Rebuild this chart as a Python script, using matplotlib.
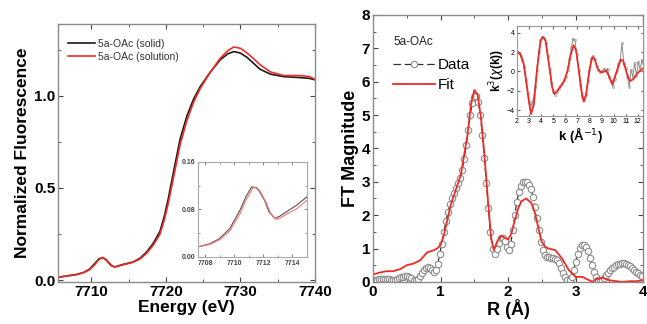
import matplotlib
matplotlib.use("Agg")
import matplotlib.pyplot as plt
import numpy as np
from matplotlib.ticker import MultipleLocator

plt.rcParams['font.family'] = ['Liberation Sans', 'DejaVu Sans']

# ---------------- XANES (left) ----------------
e_solid = [7705.5, 7706.0, 7707.0, 7708.0, 7709.0, 7709.7, 7710.4, 7711.0, 7711.5, 7712.0,
           7712.6, 7713.1, 7714.0, 7715.0, 7715.6, 7716.5, 7717.4, 7718.3, 7719.2, 7719.8,
           7720.3, 7721.0, 7721.9, 7722.8, 7723.7, 7724.6, 7725.9, 7727.3, 7728.3, 7729.1,
           7730.0, 7730.9, 7731.8, 7732.6, 7734.0, 7735.8, 7738.0, 7739.2, 7740.0]
v_solid = [0.015, 0.018, 0.024, 0.030, 0.042, 0.058, 0.088, 0.115, 0.122, 0.108,
           0.080, 0.071, 0.082, 0.092, 0.098, 0.118, 0.152, 0.200, 0.265, 0.350,
           0.440, 0.585, 0.766, 0.890, 0.982, 1.050, 1.126, 1.196, 1.228, 1.240,
           1.232, 1.208, 1.175, 1.145, 1.118, 1.104, 1.099, 1.095, 1.087]

e_soln = [7705.5, 7706.0, 7707.0, 7708.0, 7709.0, 7709.7, 7710.4, 7711.0, 7711.5, 7712.0,
          7712.6, 7713.1, 7714.0, 7715.0, 7715.6, 7716.5, 7717.4, 7718.3, 7719.2, 7719.8,
          7720.3, 7721.0, 7721.9, 7722.8, 7723.7, 7724.6, 7725.9, 7727.3, 7728.3, 7729.1,
          7730.0, 7730.9, 7731.8, 7732.6, 7734.0, 7735.8, 7738.0, 7739.2, 7740.0]
v_soln = [0.015, 0.018, 0.024, 0.030, 0.041, 0.055, 0.082, 0.112, 0.122, 0.110,
          0.082, 0.070, 0.080, 0.090, 0.097, 0.114, 0.145, 0.190, 0.250, 0.330,
          0.415, 0.555, 0.735, 0.865, 0.965, 1.040, 1.125, 1.205, 1.245, 1.265,
          1.258, 1.232, 1.200, 1.170, 1.130, 1.110, 1.110, 1.105, 1.090]

# inset pre-edge
ei_solid = [7707.5, 7708.3, 7709.0, 7709.7, 7710.4, 7710.8, 7711.2, 7711.5, 7711.7, 7712.1,
            7712.4, 7712.8, 7713.1, 7713.6, 7714.3, 7715.0]
vi_solid = [0.017, 0.022, 0.031, 0.048, 0.079, 0.101, 0.118, 0.117, 0.112, 0.095,
            0.076, 0.065, 0.068, 0.076, 0.087, 0.101]
ei_soln = [7707.5, 7708.3, 7709.0, 7709.7, 7710.4, 7710.8, 7711.3, 7711.6, 7711.8, 7712.2,
           7712.5, 7712.9, 7713.2, 7713.6, 7714.3, 7715.0]
vi_soln = [0.017, 0.021, 0.029, 0.044, 0.073, 0.095, 0.117, 0.116, 0.110, 0.092,
           0.074, 0.063, 0.066, 0.072, 0.081, 0.095]

# ---------------- FT (right) ----------------
r_step = 0.03
ft_data = [0.05, 0.06, 0.07, 0.08, 0.09, 0.09, 0.10, 0.09, 0.08, 0.06,   # 0.00-0.27
           0.05, 0.06, 0.08, 0.11, 0.14, 0.16, 0.18, 0.18, 0.16, 0.12,   # 0.30-0.57
           0.07, 0.06, 0.10, 0.18, 0.27, 0.36, 0.43, 0.46, 0.43, 0.37,   # 0.60-0.87
           0.31, 0.36, 0.55, 0.85, 1.15, 1.50, 1.82, 2.10, 2.32, 2.50,   # 0.90-1.17
           2.65, 2.80, 2.95, 3.12, 3.35, 3.68, 4.10, 4.55, 5.00, 5.35,   # 1.20-1.47
           5.55, 5.56, 5.40, 5.00, 4.40, 3.70, 2.95, 2.20, 1.50, 1.00,   # 1.50-1.77
           0.85, 0.98, 1.18, 1.30, 1.32, 1.22, 1.05, 0.97, 1.15, 1.55,   # 1.80-2.07
           2.00, 2.40, 2.70, 2.88, 2.98, 3.00, 2.98, 2.90, 2.78, 2.55,   # 2.10-2.37
           2.25, 1.90, 1.55, 1.20, 0.95, 0.82, 0.76, 0.74, 0.73, 0.72,   # 2.40-2.67
           0.70, 0.65, 0.56, 0.42, 0.28, 0.15, 0.06, 0.05, 0.15, 0.35,   # 2.70-2.97
           0.60, 0.85, 1.02, 1.10, 1.12, 1.06, 0.92, 0.72, 0.50, 0.30,   # 3.00-3.27
           0.15, 0.07, 0.04, 0.06, 0.12, 0.20, 0.28, 0.35, 0.41, 0.46,   # 3.30-3.57
           0.50, 0.53, 0.55, 0.56, 0.56, 0.55, 0.52, 0.48, 0.43, 0.37,   # 3.60-3.87
           0.31, 0.26, 0.22, 0.18]                                       # 3.90-3.99
r_data = np.round(np.arange(len(ft_data)) * r_step, 2)

r_fit = [0.00, 0.10, 0.20, 0.30, 0.40, 0.50, 0.60, 0.70, 0.80, 0.90,
         0.95, 1.00, 1.05, 1.10, 1.15, 1.20, 1.25, 1.30, 1.35, 1.40,
         1.45, 1.50, 1.55, 1.60, 1.65, 1.70, 1.75, 1.79, 1.85, 1.90,
         1.95, 2.00, 2.05, 2.10, 2.15, 2.20, 2.27, 2.35, 2.40, 2.45,
         2.50, 2.55, 2.60, 2.70, 2.80, 2.90, 3.00, 3.10, 3.20, 3.25,
         3.30, 3.40, 3.50, 3.60, 3.70, 3.80, 3.90, 4.00]
ft_fit = [0.22, 0.28, 0.32, 0.32, 0.38, 0.50, 0.55, 0.65, 0.88, 0.95,
          1.00, 1.10, 1.40, 1.85, 2.30, 2.60, 2.90, 3.20, 3.80, 4.40,
          5.30, 5.75, 5.60, 4.90, 3.80, 2.50, 1.30, 0.95, 1.25, 1.38,
          1.32, 1.27, 1.45, 1.85, 2.20, 2.42, 2.50, 2.35, 2.05, 1.60,
          1.20, 1.05, 1.00, 0.95, 0.70, 0.35, 0.15, 0.15, 0.05, 0.00,
          0.08, 0.12, 0.05, 0.02, 0.00, 0.02, 0.02, 0.05]

# inset k-space
k_data = [2.00, 2.15, 2.30, 2.45, 2.60, 2.75, 2.90, 3.05, 3.20, 3.35,
          3.50, 3.65, 3.80, 3.95, 4.10, 4.25, 4.40, 4.55, 4.70, 4.85,
          5.00, 5.15, 5.30, 5.45, 5.60, 5.75, 5.90, 6.05, 6.20, 6.35,
          6.50, 6.65, 6.80, 6.95, 7.10, 7.25, 7.40, 7.55, 7.70, 7.85,
          8.00, 8.15, 8.30, 8.45, 8.60, 8.75, 8.90, 9.05, 9.20, 9.35,
          9.50, 9.65, 9.80, 9.95, 10.10, 10.25, 10.40, 10.55, 10.70, 10.85,
          11.00, 11.15, 11.30, 11.45, 11.60, 11.75, 11.90, 12.05, 12.20, 12.35, 12.50]
chi_data = [2.0, 1.9, 1.6, 1.2, 0.5, -0.9, -2.2, -3.2, -3.5, -3.0,
            -1.6, 0.2, 2.0, 3.2, 3.6, 3.5, 2.9, 1.6, 0.3, -1.2,
            -2.1, -2.4, -2.1, -1.8, -1.5, -1.3, -0.9, -0.6, 0.2, 1.3,
            2.4, 3.4, 3.2, 1.8, 0.2, -1.4, -2.5, -2.9, -2.4, -1.0,
            0.2, 1.3, 1.6, 1.3, 0.6, 0.1, -0.1, 0.0, 0.3, 0.1,
            0.3, -0.6, -1.0, -1.6, -0.8, 0.0, 0.8, 1.2, 2.9, 0.8,
            0.4, -0.6, -1.6, 0.2, -0.6, 0.9, -0.5, 1.0, 0.2, 1.2, 0.5]
k_fit = [2.00, 2.28, 2.56, 2.84, 3.00, 3.17, 3.40, 3.68, 3.96, 4.15,
         4.37, 4.65, 4.93, 5.10, 5.35, 5.63, 5.91, 6.19, 6.47, 6.69,
         6.89, 7.17, 7.39, 7.53, 7.73, 8.00, 8.23, 8.42, 8.70, 8.98,
         9.26, 9.40, 9.54, 9.90, 10.24, 10.60, 10.80, 11.08, 11.36, 11.64,
         11.92, 12.20, 12.47]
chi_fit = [2.1, 1.8, 0.77, -1.68, -3.2, -4.4, -3.4, 0.4, 3.2, 3.55,
           3.2, 0.77, -1.68, -2.3, -2.0, -1.5, -1.0, 0.07, 1.8, 2.7,
           2.2, -0.3, -2.4, -3.1, -2.4, 0.07, 1.47, 1.3, 0.25, -0.1,
           0.0, 0.07, -0.28, -1.3, -0.1, 1.22, 1.1, -0.1, -1.0, -0.8,
           -0.28, 0.07, 0.35]

RED = '#ee2b24'
SPINE = '#8a8a8a'


def style(ax, fs, bold=True):
    for s in ax.spines.values():
        s.set_color(SPINE)
        s.set_linewidth(1.0)
    ax.tick_params(which='both', direction='in', top=True, right=True, color='#444444')
    ax.tick_params(which='major', length=3.5, labelsize=fs, pad=2)
    ax.tick_params(which='minor', length=2)
    for lab in ax.get_xticklabels() + ax.get_yticklabels():
        if bold:
            lab.set_fontweight('bold')


fig = plt.figure(figsize=(6.47, 3.24), dpi=100)

# ---- left main ----
ax1 = fig.add_axes([0.0896, 0.130, 0.3972, 0.796])
ax1.plot(e_solid, v_solid, color='#1a1a1a', lw=1.2, label='5a-OAc (solid)')
ax1.plot(e_soln, v_soln, color=RED, lw=1.2, label='5a-OAc (solution)')
ax1.set_xlim(7705.5, 7740)
ax1.set_ylim(-0.01, 1.39)
ax1.xaxis.set_major_locator(MultipleLocator(10))
ax1.xaxis.set_minor_locator(MultipleLocator(5))
ax1.yaxis.set_major_locator(MultipleLocator(0.5))
ax1.yaxis.set_minor_locator(MultipleLocator(0.25))
ax1.set_yticks([0.0, 0.5, 1.0])
ax1.set_yticklabels(['0.0', '0.5', '1.0'])
style(ax1, 11)
ax1.set_xlabel('Energy (eV)', fontsize=12.5, fontweight='bold', labelpad=1)
ax1.set_ylabel('Normalized Fluorescence', fontsize=12.5, fontweight='bold', labelpad=3)
leg1 = ax1.legend(loc='upper left', frameon=False, fontsize=7.5, handlelength=2.6,
                  handletextpad=0.3, borderaxespad=0.3, labelspacing=0.25,
                  bbox_to_anchor=(0.01, 0.97))
for t in leg1.get_texts():
    t.set_color('#333333')

# ---- left inset ----
axi = fig.add_axes([0.306, 0.207, 0.168, 0.293])
axi.plot(ei_solid, vi_solid, color='#555555', lw=0.8)
axi.plot(ei_soln, vi_soln, color='#ff7070', lw=0.8)
axi.set_xlim(7707.5, 7715)
axi.set_ylim(0, 0.16)
axi.set_xticks([7708, 7710, 7712, 7714])
axi.set_yticks([0.0, 0.08, 0.16])
axi.set_yticklabels(['0.00', '0.08', '0.16'])
axi.xaxis.set_minor_locator(MultipleLocator(1))
axi.yaxis.set_minor_locator(MultipleLocator(0.04))
for s in axi.spines.values():
    s.set_color('#aaaaaa')
    s.set_linewidth(0.8)
axi.tick_params(which='both', direction='in', top=True, right=True, color='#888888',
                labelsize=5, pad=2, labelcolor='#444444')
axi.tick_params(which='major', length=2)
axi.tick_params(which='minor', length=1.2)
for lab in axi.get_xticklabels() + axi.get_yticklabels():
    lab.set_fontweight('bold')

# ---- right main ----
ax2 = fig.add_axes([0.5765, 0.130, 0.4175, 0.824])
ax2.plot(r_data, ft_data, color='#333333', lw=0.9, linestyle=(0, (6, 3)),
         marker='o', ms=4.6, mfc='white', mec='#8c8c8c', mew=0.8, label='Data')
ax2.plot(r_fit, ft_fit, color=RED, lw=1.3, label='Fit')
ax2.set_xlim(0, 4)
ax2.set_ylim(0, 8)
ax2.xaxis.set_major_locator(MultipleLocator(1))
ax2.xaxis.set_minor_locator(MultipleLocator(0.5))
ax2.yaxis.set_major_locator(MultipleLocator(1))
ax2.yaxis.set_minor_locator(MultipleLocator(0.5))
style(ax2, 11)
ax2.set_xlabel('R (Å)', fontsize=13, fontweight='bold', labelpad=0)
ax2.set_ylabel('FT Magnitude', fontsize=13, fontweight='bold', labelpad=2)
ax2.text(0.075, 0.899, '5a-OAc', transform=ax2.transAxes, fontsize=8.5, color='#222222',
         va='center', ha='left')
leg2 = ax2.legend(loc='upper left', frameon=False, fontsize=11, handlelength=2.7,
                  handletextpad=0.2, labelspacing=0.4, borderaxespad=0.0, borderpad=0.0,
                  bbox_to_anchor=(0.075, 0.838))

# ---- right inset ----
axk = fig.add_axes([0.799, 0.642, 0.195, 0.278])
axk.plot(k_data, chi_data, color='#8a8a8a', lw=0.7, marker='o', ms=1.6,
         mfc='none', mec='#8a8a8a', mew=0.4)
axk.plot(k_fit, chi_fit, color=RED, lw=1.3)
axk.set_xlim(2, 12.45)
axk.set_ylim(-4.6, 4.7)
axk.set_xticks(range(2, 13))
axk.set_yticks([-4, -2, 0, 2, 4])
for s in axk.spines.values():
    s.set_color('#999999')
    s.set_linewidth(0.8)
axk.tick_params(which='both', direction='in', top=True, right=True, color='#666666',
                labelsize=5, pad=1.5, length=1.8)
axk.set_xlabel('k (Å$^{-1}$)', fontsize=9.5, fontweight='bold', labelpad=0)
axk.set_ylabel('k$^3$($\\chi$(k))', fontsize=8.5, fontweight='bold', labelpad=0)

fig.savefig('out.png', dpi=100)
